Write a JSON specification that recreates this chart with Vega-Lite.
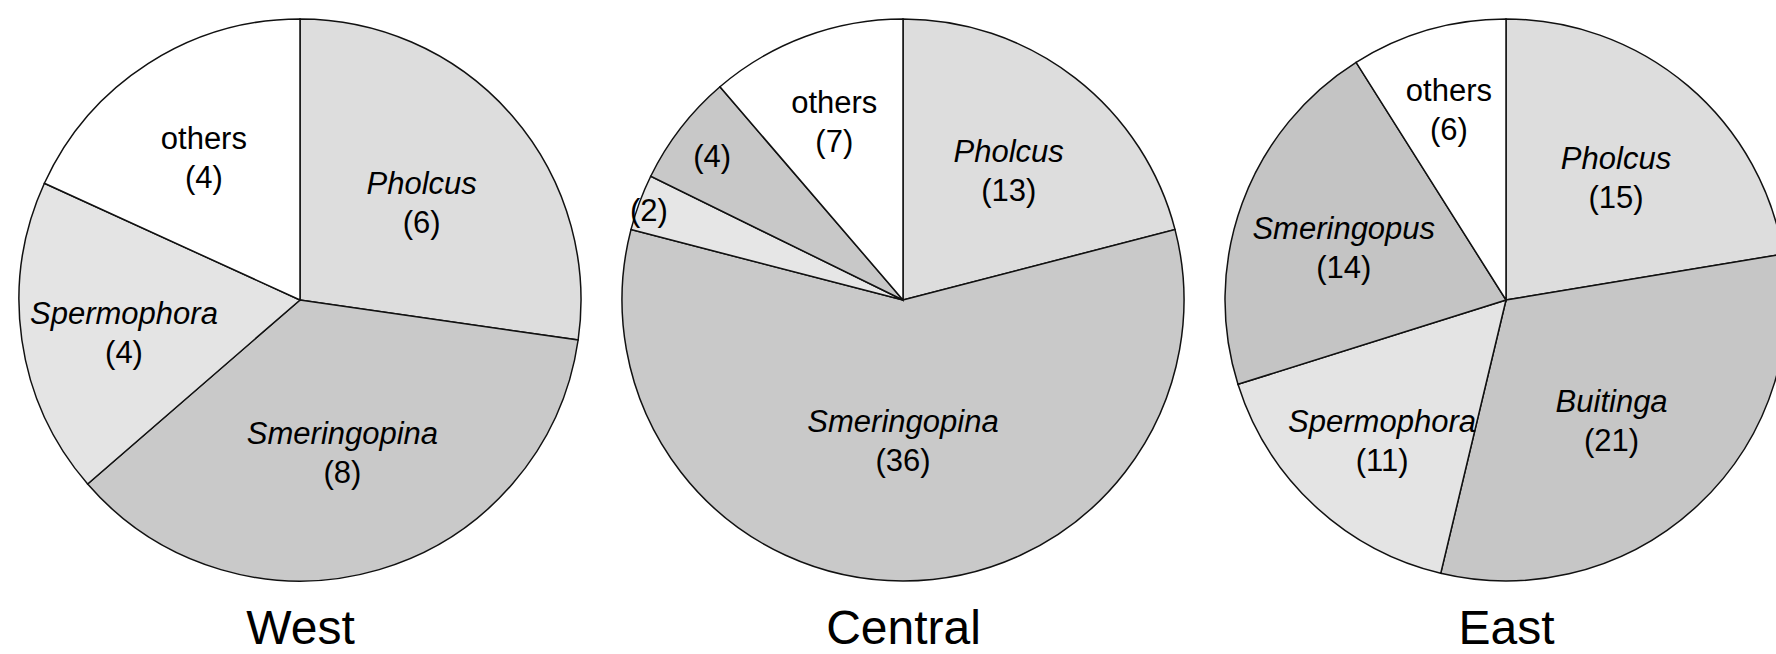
{
  "$schema": "https://vega.github.io/schema/vega-lite/v6.json",
  "autosize": "none",
  "width": 1776,
  "height": 600,
  "padding": {"left": 0, "top": 0, "right": 0, "bottom": 54},
  "background": "white",
  "config": {
    "view": {"stroke": null},
    "axisX": {
      "domain": false,
      "ticks": false,
      "tickSize": 0,
      "grid": false,
      "labelFont": "Liberation Sans",
      "labelFontSize": 48,
      "labelColor": "#000000",
      "labelPadding": 43,
      "labelBaseline": "alphabetic",
      "labelFlush": false,
      "labelOverlap": false,
      "labelAngle": 0
    }
  },
  "data": {
    "values": [
      {"region": "West", "k": 1, "genus": "Pholcus", "label": "Pholcus", "n": 6},
      {"region": "West", "k": 2, "genus": "Smeringopina", "label": "Smeringopina", "n": 8},
      {"region": "West", "k": 3, "genus": "Spermophora", "label": "Spermophora", "n": 4},
      {"region": "West", "k": 4, "genus": "others", "label": "others", "n": 4},
      {"region": "Central", "k": 1, "genus": "Pholcus", "label": "Pholcus", "n": 13},
      {"region": "Central", "k": 2, "genus": "Smeringopina", "label": "Smeringopina", "n": 36},
      {"region": "Central", "k": 3, "genus": "unnamed A", "label": "", "n": 2},
      {"region": "Central", "k": 4, "genus": "unnamed B", "label": "", "n": 4},
      {"region": "Central", "k": 5, "genus": "others", "label": "others", "n": 7},
      {"region": "East", "k": 1, "genus": "Pholcus", "label": "Pholcus", "n": 15},
      {"region": "East", "k": 2, "genus": "Buitinga", "label": "Buitinga", "n": 21},
      {"region": "East", "k": 3, "genus": "Spermophora", "label": "Spermophora", "n": 11},
      {"region": "East", "k": 4, "genus": "Smeringopus", "label": "Smeringopus", "n": 14},
      {"region": "East", "k": 5, "genus": "others", "label": "others", "n": 6}
    ]
  },
  "transform": [
    {"stack": "n", "groupby": ["region"], "sort": [{"field": "k", "order": "ascending"}], "offset": "normalize", "as": ["v0", "v1"]},
    {"calculate": "(datum.v0 + datum.v1) / 2", "as": "mid"},
    {"calculate": "datum.v1 - datum.v0", "as": "share"},
    {"calculate": "'(' + datum.n + ')'", "as": "count"}
  ],
  "layer": [
    {
      "mark": {"type": "arc", "outerRadius": 281, "stroke": "#111111", "strokeWidth": 1.5},
      "encoding": {
        "x": {"field": "region", "type": "nominal", "title": null, "scale": {"type": "point", "domain": ["West", "Central", "East"], "range": [300, 1506], "padding": 0}},
        "theta": {"field": "v0", "type": "quantitative", "stack": null, "scale": {"domain": [0, 1], "range": [0, 6.283185307179586]}},
        "theta2": {"field": "v1"},
        "color": {
          "field": "genus", "type": "nominal", "legend": null,
          "scale": {
            "domain": ["Pholcus", "Smeringopina", "Spermophora", "others", "Buitinga", "Smeringopus", "unnamed A", "unnamed B"],
            "range": ["#dddddd", "#c9c9c9", "#e4e4e4", "#ffffff", "#c6c6c6", "#c4c4c4", "#e6e6e6", "#c8c8c8"]
          }
        }
      }
    },
    {
      "transform": [{"filter": "datum.label !== '' && datum.label !== 'others'"}],
      "mark": {"type": "text", "font": "Liberation Sans", "fontSize": 31, "fontStyle": "italic", "dy": -1, "baseline": "alphabetic", "align": "center", "color": "#000000"},
      "encoding": {
        "x": {"field": "region", "type": "nominal", "title": null, "scale": {"type": "point", "domain": ["West", "Central", "East"], "range": [300, 1506], "padding": 0}},
        "theta": {"field": "mid", "type": "quantitative", "stack": null, "scale": {"domain": [0, 1], "range": [0, 6.283185307179586]}},
        "radius": {"field": "share", "type": "quantitative", "scale": {"type": "linear", "domain": [0.03, 0.065, 0.09, 0.17, 0.3, 0.6], "range": [273, 241, 205, 180, 156, 131], "clamp": true, "zero": false}},
        "text": {"field": "label"}
      }
    },
    {
      "transform": [{"filter": "datum.label === 'others'"}],
      "mark": {"type": "text", "font": "Liberation Sans", "fontSize": 31, "fontStyle": "normal", "dy": -1, "baseline": "alphabetic", "align": "center", "color": "#000000"},
      "encoding": {
        "x": {"field": "region", "type": "nominal", "title": null, "scale": {"type": "point", "domain": ["West", "Central", "East"], "range": [300, 1506], "padding": 0}},
        "theta": {"field": "mid", "type": "quantitative", "stack": null, "scale": {"domain": [0, 1], "range": [0, 6.283185307179586]}},
        "radius": {"field": "share", "type": "quantitative", "scale": {"type": "linear", "domain": [0.03, 0.065, 0.09, 0.17, 0.3, 0.6], "range": [273, 241, 205, 180, 156, 131], "clamp": true, "zero": false}},
        "text": {"field": "label"}
      }
    },
    {
      "transform": [{"filter": "datum.label !== ''"}],
      "mark": {"type": "text", "font": "Liberation Sans", "fontSize": 31, "dy": 38, "baseline": "alphabetic", "align": "center", "color": "#000000"},
      "encoding": {
        "x": {"field": "region", "type": "nominal", "title": null, "scale": {"type": "point", "domain": ["West", "Central", "East"], "range": [300, 1506], "padding": 0}},
        "theta": {"field": "mid", "type": "quantitative", "stack": null, "scale": {"domain": [0, 1], "range": [0, 6.283185307179586]}},
        "radius": {"field": "share", "type": "quantitative", "scale": {"type": "linear", "domain": [0.03, 0.065, 0.09, 0.17, 0.3, 0.6], "range": [273, 241, 205, 180, 156, 131], "clamp": true, "zero": false}},
        "text": {"field": "count"}
      }
    },
    {
      "transform": [{"filter": "datum.label === ''"}],
      "mark": {"type": "text", "font": "Liberation Sans", "fontSize": 31, "dy": 15, "baseline": "alphabetic", "align": "center", "color": "#000000"},
      "encoding": {
        "x": {"field": "region", "type": "nominal", "title": null, "scale": {"type": "point", "domain": ["West", "Central", "East"], "range": [300, 1506], "padding": 0}},
        "theta": {"field": "mid", "type": "quantitative", "stack": null, "scale": {"domain": [0, 1], "range": [0, 6.283185307179586]}},
        "radius": {"field": "share", "type": "quantitative", "scale": {"type": "linear", "domain": [0.03, 0.065, 0.09, 0.17, 0.3, 0.6], "range": [273, 241, 205, 180, 156, 131], "clamp": true, "zero": false}},
        "text": {"field": "count"}
      }
    }
  ]
}
